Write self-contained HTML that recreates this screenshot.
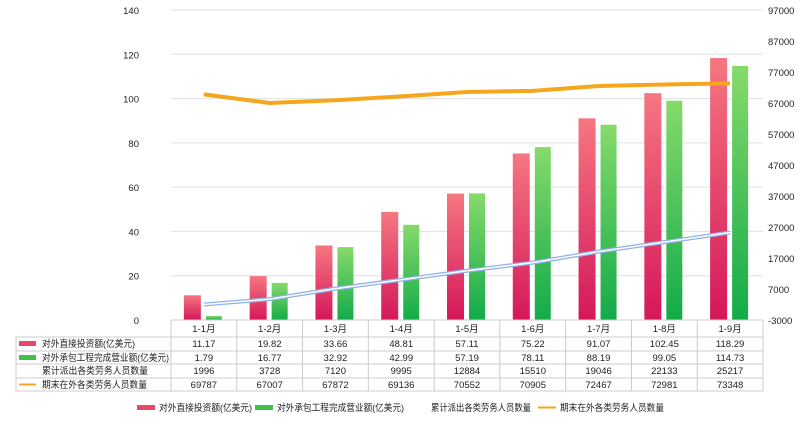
<!DOCTYPE html>
<html><head><meta charset="utf-8"><style>
body{margin:0;background:#fff;}
svg text{font-family:"Liberation Sans","Noto Sans CJK SC",sans-serif;font-size:9.5px;fill:#222;}
</style></head><body>
<svg width="800" height="430" xmlns="http://www.w3.org/2000/svg">
<defs>
<linearGradient id="r" x1="0" y1="0" x2="0" y2="1"><stop offset="0" stop-color="#f57780"/><stop offset="1" stop-color="#d5175a"/></linearGradient>
<linearGradient id="g" x1="0" y1="0" x2="0" y2="1"><stop offset="0" stop-color="#86da6a"/><stop offset="1" stop-color="#13ab4a"/></linearGradient>
</defs>
<g id="grid" stroke="#e0e0e0" stroke-width="1"></g>
<g id="bars"></g>
<g id="lines"></g>
<g id="axes"></g>
<g id="table"></g>
<g id="legend"></g>
</svg>
<script>
const NS="http://www.w3.org/2000/svg";
function el(p,t,a,txt){const e=document.createElementNS(NS,t);for(const k in a)e.setAttribute(k,a[k]);if(txt!==undefined)e.textContent=txt;document.getElementById(p).appendChild(e);return e;}
const L=171,R=763,T=10,B=320,W=(R-L)/9;
const yL=v=>B-v/140*(B-T), yR=v=>B-(v+3000)/100000*(B-T);
for(let i=0;i<=7;i++){const y=yL(i*20);el('grid','line',{x1:L,x2:R,y1:y,y2:y});
el('axes','text',{x:L-32,y:y+4,'text-anchor':'end'},i*20);}
const rl=[-3000,7000,17000,27000,37000,47000,57000,67000,77000,87000,97000];
rl.forEach(v=>el('axes','text',{x:R+5,y:yR(v)+4},v));
const cats=['1-1月','1-2月','1-3月','1-4月','1-5月','1-6月','1-7月','1-8月','1-9月'];
const a=[11.17,19.82,33.66,48.81,57.11,75.22,91.07,102.45,118.29];
const b=[1.79,16.77,32.92,42.99,57.19,78.11,88.19,99.05,114.73];
const c=[1996,3728,7120,9995,12884,15510,19046,22133,25217];
const d=[69787,67007,67872,69136,70552,70905,72467,72981,73348];
for(let i=0;i<9;i++){const cx=L+(i+.5)*W;
el('bars','rect',{x:cx-20,y:yL(a[i]),width:17,height:B-yL(a[i]),fill:'url(#r)'});
el('bars','rect',{x:cx+2,y:yL(b[i]),width:16,height:B-yL(b[i]),fill:'url(#g)'});}
const pc=c.map((v,i)=>`${L+(i+.5)*W},${yR(v)}`).join(' ');
const pd=d.map((v,i)=>`${L+(i+.5)*W},${yR(v)}`).join(' ');
el('lines','polyline',{points:pc,fill:'none',stroke:'#8fb0e8','stroke-width':4});
el('lines','polyline',{points:pc,fill:'none',stroke:'#fff','stroke-width':1.5});
el('lines','polyline',{points:pd,fill:'none',stroke:'#f4a71c','stroke-width':4});
const rows=[320,337,351,364,378,391];
el('table','line',{x1:L,x2:R,y1:320,y2:320,stroke:'#ccc'});
for(let r=1;r<rows.length;r++)el('table','line',{x1:16,x2:R,y1:rows[r],y2:rows[r],stroke:'#ccc'});
el('table','line',{x1:16,x2:16,y1:337,y2:391,stroke:'#ccc'});
for(let i=0;i<=9;i++){const x=L+i*W;el('table','line',{x1:x,x2:x,y1:320,y2:391,stroke:'#ccc'});}
cats.forEach((t,i)=>el('table','text',{x:L+(i+.5)*W,y:332,'text-anchor':'middle'},t));
const labs=['对外直接投资额(亿美元)','对外承包工程完成营业额(亿美元)','累计派出各类劳务人员数量','期末在外各类劳务人员数量'];
const lens=[93,127,106,105];
const data=[a,b,c,d];
labs.forEach((t,r)=>{const y=rows[r+1]+10;
el('table','text',{x:42,y:y,textLength:lens[r],lengthAdjust:'spacingAndGlyphs'},t);
data[r].forEach((v,i)=>el('table','text',{x:L+(i+.5)*W,y:y,'text-anchor':'middle'},r<2?v.toFixed(2):v));});
el('table','rect',{x:19,y:341,width:17,height:5,fill:'#e8486a'});
el('table','rect',{x:19,y:355,width:17,height:5,fill:'#3ec04a'});
el('table','rect',{x:19,y:383.5,width:17,height:2,fill:'#f4a71c'});
el('legend','rect',{x:137,y:405,width:18,height:5,fill:'#e8486a'});
el('legend','text',{x:159,y:411,textLength:93,lengthAdjust:'spacingAndGlyphs'},'对外直接投资额(亿美元)');
el('legend','rect',{x:255,y:405,width:18,height:5,fill:'#3ec04a'});
el('legend','text',{x:277,y:411,textLength:127,lengthAdjust:'spacingAndGlyphs'},'对外承包工程完成营业额(亿美元)');
el('legend','text',{x:431,y:411,textLength:100,lengthAdjust:'spacingAndGlyphs'},'累计派出各类劳务人员数量');
el('legend','rect',{x:538,y:406.5,width:18,height:2,fill:'#f4a71c'});
el('legend','text',{x:560,y:411,textLength:104,lengthAdjust:'spacingAndGlyphs'},'期末在外各类劳务人员数量');
</script>
</body></html>
